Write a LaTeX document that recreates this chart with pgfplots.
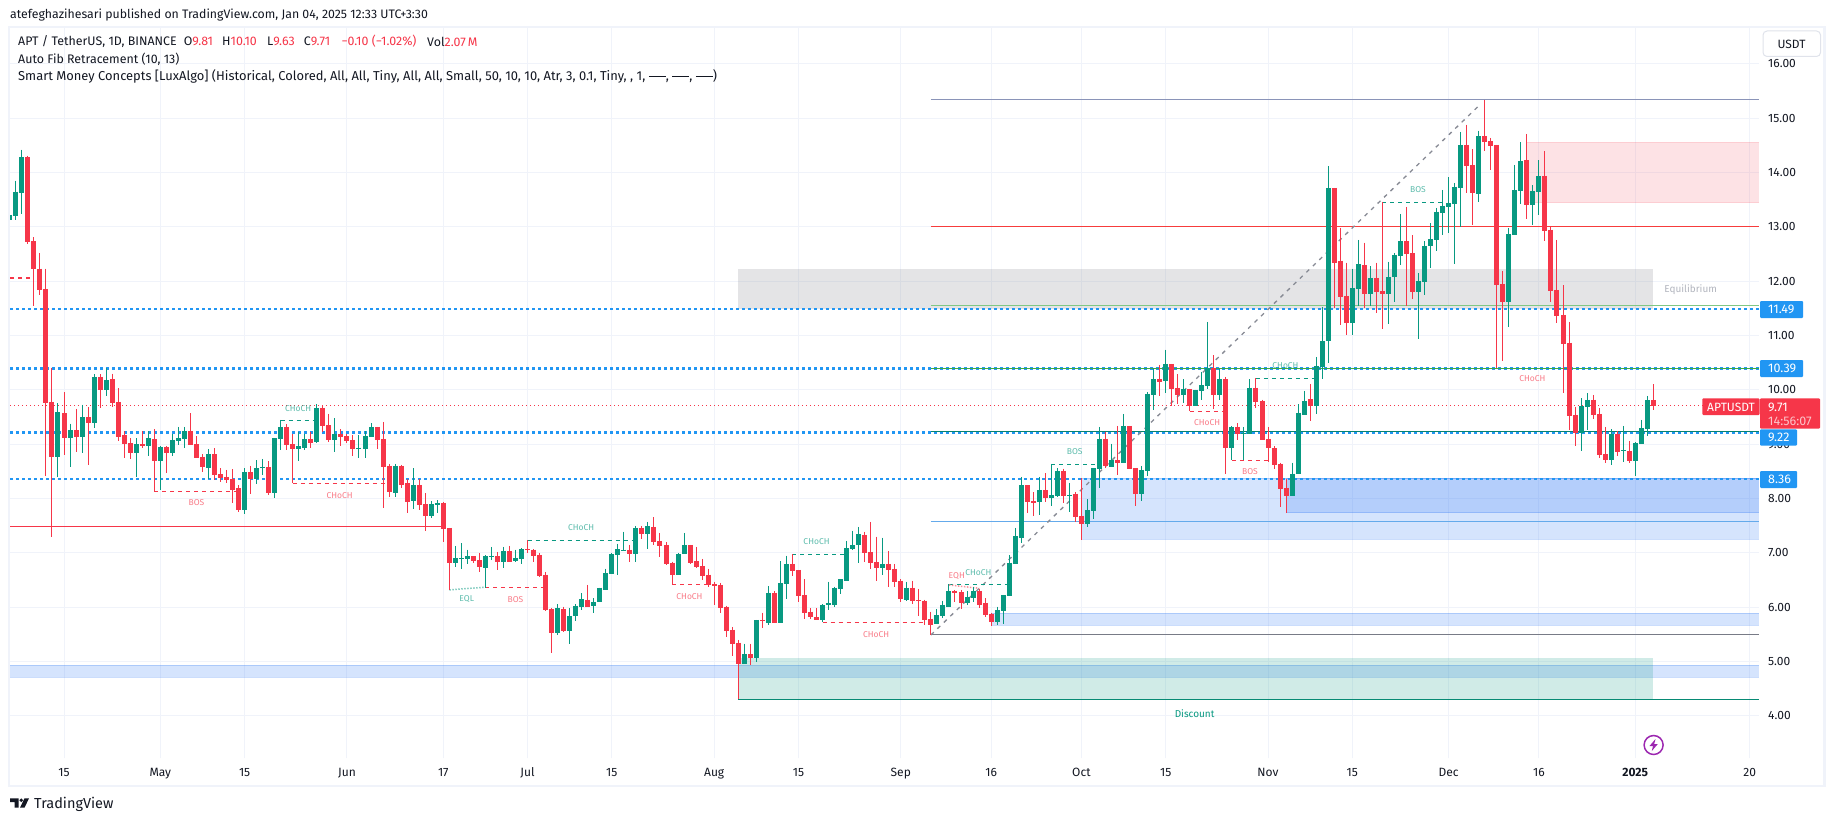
\documentclass[border=0pt]{standalone}
\usepackage{fontspec}
\setmainfont{Fira Sans}
\usepackage{pgfplots}
\usepackage{pgfplotstable}
\pgfplotsset{compat=1.18}
\definecolor{up}{HTML}{089981}
\definecolor{dn}{HTML}{F63649}
\definecolor{tvblue}{HTML}{2196F3}
\definecolor{ob}{HTML}{3179F5}
\definecolor{gridc}{HTML}{F0F3FA}
\definecolor{ink}{HTML}{131722}
\definecolor{fibA}{RGB}{138,148,184}
\definecolor{fibB}{RGB}{247,60,60}
\definecolor{fibC}{RGB}{129,199,132}
\definecolor{fibD}{RGB}{60,170,70}
\definecolor{fibE}{RGB}{100,170,235}
\definecolor{fibF}{RGB}{120,123,134}
\definecolor{trend}{RGB}{135,138,148}
\definecolor{eqlab}{RGB}{178,181,190}
\definecolor{btn}{RGB}{224,227,235}
\definecolor{evt}{RGB}{156,39,176}
\definecolor{eqz}{RGB}{120,123,134}
\newcommand\fz[1]{\fontsize{#1}{#1}\selectfont}
% columns: day index since 15 Apr 2024, open, high, low, close
\pgfplotstableread{
d o h l c
-9 13.13 13.53 12.89 13.22
-8 13.20 13.85 13.12 13.65
-7 13.63 14.42 13.24 14.28
-1 8.77 9.75 8.40 9.59
1 9.12 9.38 8.59 9.26
3 9.14 9.73 8.83 9.50
5 9.39 10.29 9.29 10.24
7 10.00 10.40 9.89 10.18
12 8.84 9.11 8.40 9.00
14 8.97 9.24 8.79 9.11
16 8.69 8.97 8.16 8.95
18 8.84 9.19 8.79 9.08
19 9.06 9.32 8.99 9.11
20 9.10 9.32 8.94 9.24
24 8.56 8.91 8.36 8.82
30 7.79 8.56 7.72 8.49
32 8.36 8.71 8.27 8.56
33 8.57 8.73 8.43 8.59
35 8.10 9.11 8.01 9.11
36 9.10 9.45 8.89 9.32
39 8.91 9.23 8.69 8.97
40 8.93 9.19 8.89 9.10
42 9.04 9.74 9.02 9.67
45 9.08 9.48 8.86 9.19
49 8.92 9.17 8.75 8.94
50 8.91 9.24 8.75 9.15
51 9.13 9.39 9.13 9.32
55 8.10 8.64 8.03 8.60
58 7.96 8.56 7.81 8.25
61 7.68 7.96 7.64 7.90
62 7.89 7.97 7.74 7.91
65 6.82 7.13 6.74 6.91
66 6.89 7.18 6.71 6.91
67 6.89 7.06 6.80 6.94
70 6.72 6.96 6.36 6.94
71 6.93 7.11 6.87 6.95
73 6.83 7.11 6.72 7.04
75 6.85 7.06 6.83 6.91
76 6.89 7.09 6.80 7.07
82 5.53 6.06 5.49 5.99
84 5.57 5.99 5.33 5.84
85 5.84 6.06 5.75 6.03
86 6.01 6.26 5.95 6.15
88 6.03 6.17 5.90 6.10
89 6.10 6.36 6.10 6.36
90 6.32 6.71 6.32 6.63
91 6.62 7.00 6.62 6.98
92 6.96 7.17 6.60 7.07
93 7.04 7.39 7.04 7.06
95 6.98 7.50 6.83 7.46
97 7.35 7.57 7.07 7.50
102 6.60 7.00 6.60 6.98
103 6.98 7.37 6.98 7.15
113 4.96 5.33 4.96 5.14
115 5.07 5.77 5.00 5.77
117 5.71 6.39 5.68 6.27
119 5.71 6.85 5.71 6.45
120 6.43 6.95 6.15 6.80
126 5.77 6.06 5.72 6.04
127 6.05 6.47 5.95 6.07
128 6.04 6.38 6.01 6.36
129 6.34 6.52 6.25 6.52
130 6.49 7.22 6.49 7.09
131 7.07 7.41 7.06 7.15
132 7.15 7.48 6.82 7.35
136 6.73 7.28 6.60 6.80
140 6.14 6.47 6.12 6.36
145 5.70 5.97 5.70 5.86
146 5.84 6.12 5.81 6.05
147 6.01 6.42 6.01 6.30
150 6.08 6.30 6.04 6.19
151 6.17 6.37 6.10 6.30
155 5.73 6.01 5.68 5.95
156 5.93 6.23 5.70 6.23
157 6.21 6.96 6.21 6.82
158 6.80 7.46 6.80 7.31
159 7.28 8.40 7.19 8.25
162 7.94 8.40 7.70 8.16
164 8.01 8.64 7.87 8.07
165 8.05 8.56 8.03 8.51
167 8.05 8.29 7.76 8.07
170 7.53 7.99 7.48 7.79
171 7.77 8.56 7.63 8.56
172 8.55 9.32 8.20 9.10
174 8.58 9.01 8.58 8.71
176 8.66 9.56 8.66 9.34
179 8.09 8.60 7.96 8.53
180 8.51 9.96 8.42 9.93
181 9.91 10.41 9.63 10.20
183 10.17 10.74 9.95 10.48
186 9.91 10.20 9.76 10.02
188 9.71 10.00 9.71 10.00
189 9.98 10.33 9.82 10.09
190 10.07 11.25 10.02 10.41
192 9.91 10.41 9.82 10.20
194 8.93 9.34 8.71 9.32
196 9.19 9.32 8.71 9.21
197 9.19 10.20 9.19 10.04
204 8.05 8.66 8.05 8.46
205 8.46 9.74 8.46 9.58
206 9.54 9.98 9.54 9.80
208 9.71 10.61 9.56 10.44
209 10.42 11.53 10.20 10.90
210 10.90 14.12 10.49 13.72
214 11.24 12.23 11.01 11.88
215 11.86 12.76 11.55 12.32
217 11.77 12.28 11.55 12.06
220 11.77 12.36 11.22 12.08
221 12.08 12.52 11.62 12.49
222 12.47 13.24 12.30 12.74
225 11.80 12.15 10.94 12.01
226 11.99 12.74 11.75 12.65
227 12.65 13.07 12.25 12.78
228 12.76 13.35 12.56 13.28
229 13.26 13.68 12.85 13.39
230 13.37 13.91 12.89 13.44
231 13.42 13.81 12.32 13.74
232 13.72 14.75 13.00 14.51
235 13.61 14.77 13.46 14.67
240 11.62 12.98 11.16 12.87
241 12.85 14.14 12.85 13.68
242 13.66 14.56 13.42 14.21
244 13.40 13.77 13.04 13.66
245 13.64 14.23 13.22 13.94
252 9.21 9.85 8.88 9.70
253 9.69 9.94 9.26 9.82
257 8.71 9.28 8.62 9.19
259 8.87 9.34 8.68 8.89
261 8.69 9.04 8.42 9.02
262 9.01 9.45 9.01 9.30
263 9.28 9.89 9.15 9.81
}\upcandles
\pgfplotstableread{
d o h l c
-6 14.28 14.31 12.69 12.73
-5 12.74 12.81 11.54 12.22
-4 12.23 12.52 11.74 11.84
-3 11.86 12.23 8.42 9.76
-2 9.78 10.41 7.30 8.77
0 9.57 9.96 8.80 9.12
2 9.26 9.65 8.86 9.14
4 9.50 9.69 8.61 9.39
6 10.24 10.29 9.67 10.00
8 10.20 10.30 9.68 9.76
9 9.78 10.03 9.06 9.14
10 9.17 9.24 8.75 9.01
11 9.02 9.11 8.73 8.84
13 9.00 9.24 8.94 8.97
15 9.10 9.28 8.13 8.69
17 8.95 8.97 8.48 8.84
21 9.24 9.57 8.99 8.99
22 9.00 9.15 8.75 8.75
23 8.77 8.82 8.49 8.58
25 8.82 8.93 8.34 8.43
26 8.45 8.56 8.30 8.38
27 8.40 8.53 8.29 8.34
28 8.36 8.54 7.92 8.16
29 8.19 8.25 7.75 7.79
31 8.49 8.60 8.09 8.36
34 8.58 8.69 8.07 8.10
37 9.32 9.37 8.89 8.99
38 9.00 9.19 8.28 8.91
41 9.10 9.23 8.93 9.02
43 9.67 9.72 9.23 9.34
44 9.35 9.56 9.04 9.08
46 9.19 9.28 8.97 9.13
47 9.15 9.19 9.02 9.06
48 9.08 9.17 8.79 8.91
52 9.32 9.32 8.91 9.08
53 9.10 9.41 7.83 8.58
54 8.60 8.64 8.03 8.12
56 8.60 8.62 8.20 8.25
57 8.29 8.36 7.74 7.94
59 8.25 8.36 7.79 7.88
60 7.90 8.10 7.40 7.68
63 7.92 7.94 7.20 7.44
64 7.46 7.46 6.32 6.82
68 6.94 6.94 6.82 6.85
69 6.87 7.00 6.65 6.74
72 6.94 7.02 6.69 6.83
74 7.04 7.13 6.83 6.83
77 7.07 7.24 7.00 7.05
78 7.06 7.07 6.83 6.94
79 6.96 7.00 6.56 6.58
80 6.60 6.65 5.93 5.95
81 5.97 5.99 5.16 5.53
83 5.97 6.01 5.55 5.57
87 6.14 6.41 6.01 6.01
94 7.06 7.15 6.83 6.98
96 7.46 7.50 7.26 7.35
98 7.48 7.66 7.15 7.20
99 7.22 7.37 6.93 7.13
100 7.15 7.20 6.78 6.80
101 6.82 6.84 6.42 6.60
104 7.15 7.15 6.80 6.82
105 6.85 7.11 6.72 6.74
106 6.76 6.89 6.50 6.58
107 6.60 6.71 6.38 6.41
108 6.42 6.47 6.04 6.40
109 6.41 6.45 5.90 5.99
110 6.01 6.03 5.46 5.57
111 5.59 5.64 5.11 5.33
112 5.35 5.40 4.31 4.96
114 5.14 5.33 4.94 5.07
116 5.77 5.90 5.62 5.75
118 6.27 6.30 5.71 5.71
121 6.80 6.98 6.58 6.67
122 6.69 6.69 6.10 6.21
123 6.23 6.52 5.79 5.90
124 5.92 5.99 5.79 5.82
125 5.82 5.99 5.77 5.77
133 7.33 7.39 6.83 7.00
134 7.02 7.57 6.71 6.82
135 6.83 7.30 6.49 6.72
137 6.80 7.04 6.38 6.69
138 6.71 6.80 6.38 6.47
139 6.49 6.52 6.10 6.16
141 6.36 6.49 6.06 6.12
142 6.13 6.34 5.84 6.11
143 6.12 6.14 5.68 5.77
144 5.79 5.92 5.49 5.68
148 6.30 6.32 6.10 6.27
149 6.28 6.32 5.97 6.08
152 6.30 6.34 5.99 6.05
153 6.08 6.17 5.82 5.86
154 5.88 5.90 5.66 5.73
160 8.25 8.25 7.74 7.94
161 7.96 8.12 7.68 7.92
163 8.16 8.47 7.94 8.01
166 8.51 8.55 7.92 8.05
168 8.09 8.12 7.57 7.66
169 7.68 8.38 7.24 7.53
173 9.10 9.23 8.56 8.60
175 8.71 9.34 8.44 8.66
177 9.34 9.34 8.55 8.55
178 8.56 8.56 7.87 8.09
182 10.20 10.46 9.89 10.15
184 10.48 10.48 9.71 10.02
185 10.04 10.29 9.74 9.91
187 10.02 10.02 9.61 9.70
191 10.41 10.64 9.65 9.91
193 10.20 10.24 8.46 8.93
195 9.32 9.39 9.08 9.19
198 10.04 10.21 9.67 9.78
199 9.80 9.82 9.08 9.08
200 9.10 9.32 8.68 8.93
201 8.93 8.97 8.55 8.62
202 8.64 8.66 7.85 8.18
203 8.20 8.36 7.74 8.05
207 9.83 10.11 9.43 9.71
211 13.72 13.72 11.51 12.34
212 12.38 12.98 11.20 11.71
213 11.73 12.34 11.01 11.24
216 12.30 12.71 11.51 11.77
218 12.06 12.34 11.42 11.80
219 11.82 13.46 11.12 11.77
223 12.74 13.37 11.55 12.50
224 12.52 12.85 11.68 11.80
233 14.51 14.88 13.63 14.12
234 14.14 14.43 13.04 13.63
236 14.67 15.34 14.40 14.56
237 14.58 14.64 14.05 14.49
238 14.51 14.51 10.41 11.93
239 11.95 12.19 10.54 11.62
243 14.23 14.71 13.15 13.40
246 13.94 14.40 12.74 12.93
247 12.95 13.00 11.62 11.82
248 11.84 12.76 11.24 11.36
249 11.38 11.93 9.95 10.85
250 10.87 11.25 9.26 9.52
251 9.54 9.69 8.97 9.21
254 9.82 9.91 9.47 9.54
255 9.56 9.67 8.75 8.80
256 8.82 9.32 8.66 8.71
258 9.19 9.24 8.79 8.86
260 8.88 9.06 8.66 8.69
264 9.81 10.10 9.63 9.71
}\dncandles
\newcommand\Xa{-8.97}
\newcommand\Xb{281.56}
% horizontal line: [style]{price}{from}{to}
\newcommand\hl[4][]{\addplot[line width=1.1pt,#1] coordinates {(#3,#2)(#4,#2)};}
% zone: {from}{to}{top}{bottom}{colour}{opacity}
\newcommand\zone[6]{\addplot[draw=none,fill=#5,fill opacity=#6] coordinates {(#1,#3)(#2,#3)(#2,#4)(#1,#4)} -- cycle;}
\newcommand\obz[4]{\zone{#1}{#2}{#3}{#4}{ob}{0.2}
  \addplot[line width=1pt,draw=ob,draw opacity=.25] coordinates {(#1,#3)(#2,#3)};
  \addplot[line width=1pt,draw=ob,draw opacity=.25] coordinates {(#1,#4)(#2,#4)};}
% market structure: {colour}{from}{to}{price}{label}{label x}{label y}
\newcommand\ms[7]{\addplot[draw=#1,line width=1pt,dash pattern=on 4pt off 4pt] coordinates {(#2,#4)(#3,#4)};
  \node[text=#1,text opacity=.65,inner sep=0pt,font=\fz{8.5}] at (axis cs:#6,#7) {#5};}
\newcommand\wicks[2]{\addplot[draw=none,no markers,error bars/.cd,y dir=minus,y explicit,error mark=none,
   error bar style={line width=1pt,draw=#2,solid}] table[x=d,y=h,y error minus expr=\thisrow{h}-\thisrow{l}] {#1};}
\newcommand\dsh{\rule[3.4pt]{17pt}{0.9pt}}
\begin{document}
\begin{tikzpicture}[x=1pt,y=-1pt]
\path[use as bounding box,fill=white] (0,0) rectangle (1835,821);
\draw[gridc,line width=2.5pt] (9,27) rectangle (1824.5,786);
\begin{axis}[
  at={(10pt,-758pt)},anchor=south west,
  scale only axis,width=1749pt,height=730pt,
  xmin=\Xa,xmax=\Xb,ymin=3.226,ymax=16.66,
  axis line style={draw=none},
  tick style={draw=none},major tick length=0pt,
  grid=major,grid style={gridc,line width=1pt},
  xtick={0,16,30,47,63,77,91,108,122,139,154,169,183,200,214,230,245,261,280},
  xticklabels={15,May,15,Jun,17,Jul,15,Aug,15,Sep,16,Oct,15,Nov,15,Dec,16,\textbf{2025},20},
  xticklabel style={anchor=base,yshift=-18pt,font=\fz{12},text=ink},
  ytick={4,5,6,7,8,9,10,11,12,13,14,15,16},
  yticklabels={4.00,5.00,6.00,7.00,8.00,9.00,10.00,11.00,12.00,13.00,14.00,15.00,16.00},
  yticklabel pos=right,
  yticklabel style={anchor=west,inner sep=0pt,xshift=9pt,font=\fz{12},text=ink},
]
% zones
\obz{\Xa}{\Xb}{4.93}{4.71}
\obz{154}{\Xb}{5.89}{5.665}
\obz{169}{\Xb}{8.37}{7.25}
\obz{203}{\Xb}{8.37}{7.74}
\zone{243}{\Xb}{14.56}{13.44}{dn}{0.14}
\addplot[line width=1pt,draw=dn,draw opacity=.12] coordinates {(243,14.56)(\Xb,14.56)};
\addplot[line width=1pt,draw=dn,draw opacity=.12] coordinates {(243,13.44)(\Xb,13.44)};
\zone{112}{264}{12.23}{11.49}{eqz}{0.2}
\zone{112}{264}{5.06}{4.31}{up}{0.19}
% auto fib levels
\hl[draw=tvblue,line width=2.5pt,dash pattern=on 3pt off 3pt]{11.49}{\Xa}{\Xb}
\hl[draw=tvblue,line width=2.5pt,dash pattern=on 3pt off 3pt]{10.39}{\Xa}{\Xb}
\hl[draw=tvblue,line width=2.5pt,dash pattern=on 3pt off 3pt]{9.22}{\Xa}{\Xb}
\hl[draw=tvblue,line width=2.5pt,dash pattern=on 3pt off 3pt]{8.36}{\Xa}{\Xb}
\hl[draw=dn,line width=1pt,dash pattern=on 1pt off 3pt]{9.71}{\Xa}{\Xb}
\hl[draw=fibA]{15.34}{144}{\Xb}
\hl[draw=fibB]{13.00}{144}{\Xb}
\hl[draw=fibC]{11.56}{144}{\Xb}
\hl[draw=fibD]{10.40}{144}{\Xb}
\hl[draw=up!85!black]{9.23}{144}{\Xb}
\hl[draw=fibE]{7.58}{144}{\Xb}
\hl[draw=fibF,line width=1pt]{5.49}{144}{\Xb}
\hl[draw=dn]{7.49}{\Xa}{63}
\hl[draw=up!90!black]{4.31}{112}{\Xb}
\addplot[draw=trend,line width=1.3pt,dash pattern=on 4pt off 5pt] coordinates {(144,5.49)(235.4,15.27)};
\hl[draw=dn,dash pattern=on 4pt off 4pt]{12.06}{\Xa}{-5}
% market structure
\ms{dn}{15}{29}{8.13}{BOS}{22}{7.93}
\ms{up}{36}{42}{9.44}{CHoCH}{38.9}{9.65}
\ms{dn}{38}{54}{8.28}{CHoCH}{45.8}{8.05}
\ms{dn}{70}{80}{6.37}{BOS}{75}{6.15}
\ms{up}{77}{95}{7.23}{CHoCH}{85.9}{7.47}
\ms{dn}{101}{108.5}{6.42}{CHoCH}{103.9}{6.20}
\ms{up}{121}{130}{6.98}{CHoCH}{125}{7.20}
\ms{dn}{126}{143}{5.72}{CHoCH}{134.9}{5.50}
\ms{up}{147}{157}{6.42}{CHoCH}{151.9}{6.64}
\ms{up}{164}{172}{8.63}{BOS}{167.9}{8.87}
\ms{dn}{194}{200}{8.71}{BOS}{197}{8.49}
\ms{dn}{187}{193}{9.61}{CHoCH}{189.9}{9.39}
\ms{up}{198}{208}{10.21}{CHoCH}{202.9}{10.45}
\ms{up}{219}{229}{13.45}{BOS}{224.9}{13.69}
\addplot[draw=up!50,line width=1.5pt,dash pattern=on 1.5pt off 1.5pt] coordinates {(64,6.32)(70,6.37)};
\node[text=up,text opacity=.65,inner sep=0pt,font=\fz{8.5}] at (axis cs:66.9,6.15) {EQL};
\addplot[draw=dn!55,line width=1.5pt,dash pattern=on 1.5pt off 1.5pt] coordinates {(147,6.41)(152,6.35)};
\node[text=dn,text opacity=.65,inner sep=0pt,font=\fz{8.5}] at (axis cs:148.3,6.58) {EQH};
\node[text=dn,text opacity=.65,inner sep=0pt,font=\fz{8.5}] at (axis cs:243.9,10.20) {CHoCH};
\node[text=up,inner sep=0pt,font=\fz{10}] at (axis cs:187.8,4.05) {Discount};
\node[text=eqlab,inner sep=0pt,font=\fz{10}] at (axis cs:270.2,11.85) {Equilibrium};
% candles
\wicks{\upcandles}{up}
\wicks{\dncandles}{dn}
\addplot[draw=none,no markers,error bars/.cd,y dir=minus,y explicit,error mark=none,
   error bar style={line width=5pt,draw=up,solid}] table[x=d,y=c,y error minus expr=\thisrow{c}-\thisrow{o}] {\upcandles};
\addplot[draw=none,no markers,error bars/.cd,y dir=minus,y explicit,error mark=none,
   error bar style={line width=5pt,draw=dn,solid}] table[x=d,y=o,y error minus expr=\thisrow{o}-\thisrow{c}] {\dncandles};
\end{axis}
% header
\begin{scope}[every node/.style={anchor=west,inner sep=0pt,text=ink,font=\fz{12.4}}]
\node[font=\fz{12.3}] at (10,15) {atefeghazihesari published on TradingView.com, Jan 04, 2025 12:33 UTC+3:30};
\node at (18,41.5) {APT / TetherUS, 1D, BINANCE};
\node at (183.7,41.5) {O\textcolor{dn}{9.81}};
\node at (222,41.5) {H\textcolor{dn}{10.10}};
\node at (267,41.5) {L\textcolor{dn}{9.63}};
\node at (303.7,41.5) {C\textcolor{dn}{9.71}};
\node at (341.3,41.5) {\textcolor{dn}{−0.10 (−1.02\%)}};
\node at (427,41.5) {Vol\textcolor{dn}{2.07\,M}};
\node at (18,59) {Auto Fib Retracement (10, 13)};
\node[font=\fz{12.9}] at (18,76) {Smart Money Concepts [LuxAlgo] (Historical, Colored, All, All, Tiny, All, All, Small, 50, 10, 10, Atr, 3, 0.1, Tiny, , 1, \dsh, \dsh, \dsh)};
\node[font=\fz{14.5}] at (34,804) {TradingView};
\end{scope}
% TradingView mark
\fill[ink] (10,798.3) -- (18.5,798.3) -- (18.5,807.7) -- (14.5,807.7) -- (14.5,802) -- (10,802) -- cycle;
\fill[ink] (21.3,800.2) circle (1.9);
\fill[ink] (24.5,798.3) -- (29,798.3) -- (24.5,807.7) -- (20,807.7) -- cycle;
% USDT button
\draw[draw=btn,fill=white,line width=1pt,rounded corners=4pt] (1763,31) rectangle (1820.5,56.5);
\node[inner sep=0pt,text=ink,font=\fz{12}] at (1791.5,44) {USDT};
% price tags
\newcommand\tagp[4]{\fill[tvblue,rounded corners=1pt] (1760,#1) rectangle (#3,#2);
  \node[anchor=west,inner sep=0pt,text=white,font=\fz{12.5}] at (1768,{(#1+#2)/2}) {#4};}
\tagp{301}{318}{1803}{11.49}
\tagp{360}{377}{1803}{10.39}
\tagp{471}{488}{1797}{8.36}
\fill[dn,rounded corners=1pt] (1760,398.3) rectangle (1820,428.7);
\fill[dn,rounded corners=1pt] (1702.3,398.3) rectangle (1759.5,415);
\tagp{429.3}{445.7}{1797}{9.22}
\node[inner sep=0pt,text=white,font=\fz{12}] at (1731,407) {APTUSDT};
\node[anchor=west,inner sep=0pt,text=white,font=\fz{12.5}] at (1768,407) {9.71};
\node[anchor=west,inner sep=0pt,text=white,text opacity=.7,font=\fz{12.5}] at (1768,421) {14:56:07};
% event mark
\draw[draw=evt,fill=white,line width=1.5pt] (1653.6,745) circle (9.5);
\fill[evt] (1655.5,739) -- (1649.5,746) -- (1653,746) -- (1651.8,751) -- (1657.8,744) -- (1654.2,744) -- cycle;
\end{tikzpicture}
\end{document}
